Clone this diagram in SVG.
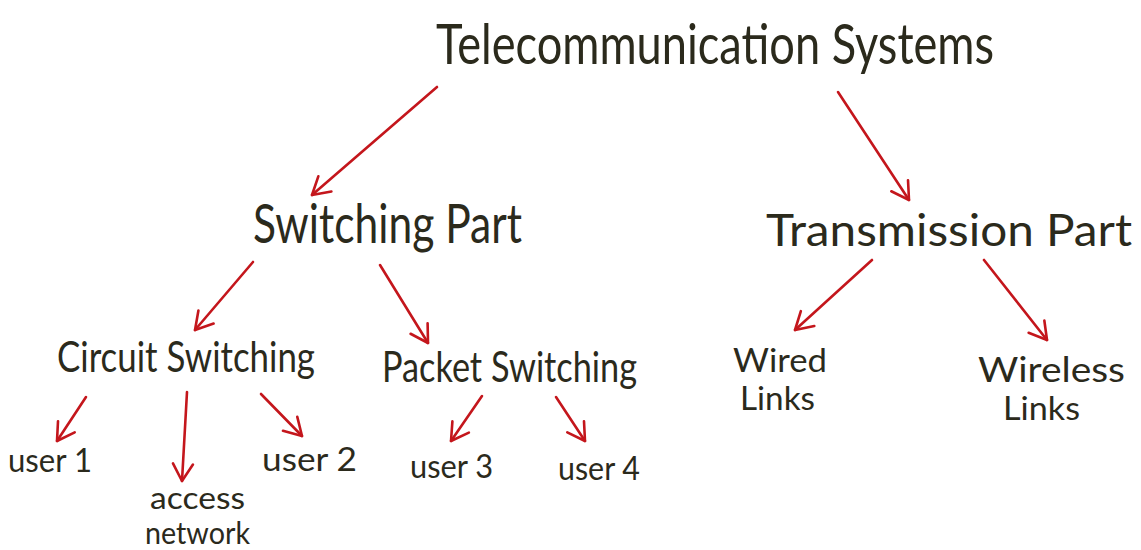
<svg xmlns="http://www.w3.org/2000/svg" width="1141" height="550" viewBox="0 0 1141 550">
  <style>
    .lbl { font-family: "Lato", "Liberation Sans", sans-serif; font-weight: 400; fill: #2b2a1c; }
    .edge { fill: none; stroke: #c4161c; stroke-width: 2.6; stroke-linecap: round; stroke-linejoin: round; }
  </style>
  <defs>
    <!-- open V arrowhead, sized in user space -->
    <marker id="head" markerUnits="userSpaceOnUse" markerWidth="40" markerHeight="40" viewBox="-20 -20 40 40" refX="0" refY="0" orient="auto">
      <path d="M -17 -10 L 0 0 L -17 10" fill="none" stroke="#c4161c" stroke-width="2.6" stroke-linecap="round" stroke-linejoin="round"/>
    </marker>
  </defs>
  <rect width="1141" height="550" fill="#ffffff"/>

  <!-- connectors -->
  <g id="connectors" class="edges">
    <path class="edge" marker-end="url(#head)" d="M 437 87 L 312 195"/>
    <path class="edge" marker-end="url(#head)" d="M 838 92 L 909 200"/>
    <path class="edge" marker-end="url(#head)" d="M 253 262 L 195 330"/>
    <path class="edge" marker-end="url(#head)" d="M 380 265 L 428 343"/>
    <path class="edge" marker-end="url(#head)" d="M 872 260 L 795 330"/>
    <path class="edge" marker-end="url(#head)" d="M 984 260 L 1047 340"/>
    <path class="edge" marker-end="url(#head)" d="M 86 397 L 57 441"/>
    <path class="edge" marker-end="url(#head)" d="M 187 392 L 182 481"/>
    <path class="edge" marker-end="url(#head)" d="M 261 394 L 302 436"/>
    <path class="edge" marker-end="url(#head)" d="M 482 396 L 451 441"/>
    <path class="edge" marker-end="url(#head)" d="M 556 397 L 585 441"/>
  </g>

  <!-- nodes -->
  <g id="telecom">
    <text class="lbl" x="436" y="64" font-size="56" textLength="558" lengthAdjust="spacingAndGlyphs">Telecommunication Systems</text>
  </g>
  <g id="switching">
    <text class="lbl" x="253" y="243" font-size="54" textLength="269" lengthAdjust="spacingAndGlyphs">Switching Part</text>
  </g>
  <g id="transmission">
    <text class="lbl" x="766" y="246" font-size="44" textLength="366" lengthAdjust="spacingAndGlyphs">Transmission Part</text>
  </g>
  <g id="circuit">
    <text class="lbl" x="57" y="372" font-size="42" textLength="258" lengthAdjust="spacingAndGlyphs">Circuit Switching</text>
  </g>
  <g id="packet">
    <text class="lbl" x="382" y="382" font-size="42" textLength="255" lengthAdjust="spacingAndGlyphs">Packet Switching</text>
  </g>
  <g id="user1">
    <text class="lbl" x="8" y="472" font-size="32" textLength="84" lengthAdjust="spacingAndGlyphs">user 1</text>
  </g>
  <g id="access">
    <text class="lbl" x="150" y="509" font-size="31" textLength="95" lengthAdjust="spacingAndGlyphs">access</text>
    <text class="lbl" x="145" y="544" font-size="30" textLength="105" lengthAdjust="spacingAndGlyphs">network</text>
  </g>
  <g id="user2">
    <text class="lbl" x="262" y="471" font-size="32" textLength="95" lengthAdjust="spacingAndGlyphs">user 2</text>
  </g>
  <g id="user3">
    <text class="lbl" x="410" y="478" font-size="32" textLength="83" lengthAdjust="spacingAndGlyphs">user 3</text>
  </g>
  <g id="user4">
    <text class="lbl" x="558" y="480" font-size="32" textLength="82" lengthAdjust="spacingAndGlyphs">user 4</text>
  </g>
  <g id="wired">
    <text class="lbl" x="733" y="372" font-size="32" textLength="94" lengthAdjust="spacingAndGlyphs">Wired</text>
    <text class="lbl" x="740" y="410" font-size="32" textLength="75" lengthAdjust="spacingAndGlyphs">Links</text>
  </g>
  <g id="wireless">
    <text class="lbl" x="978" y="382" font-size="34" textLength="147" lengthAdjust="spacingAndGlyphs">Wireless</text>
    <text class="lbl" x="1003" y="420" font-size="32" textLength="77" lengthAdjust="spacingAndGlyphs">Links</text>
  </g>
</svg>
